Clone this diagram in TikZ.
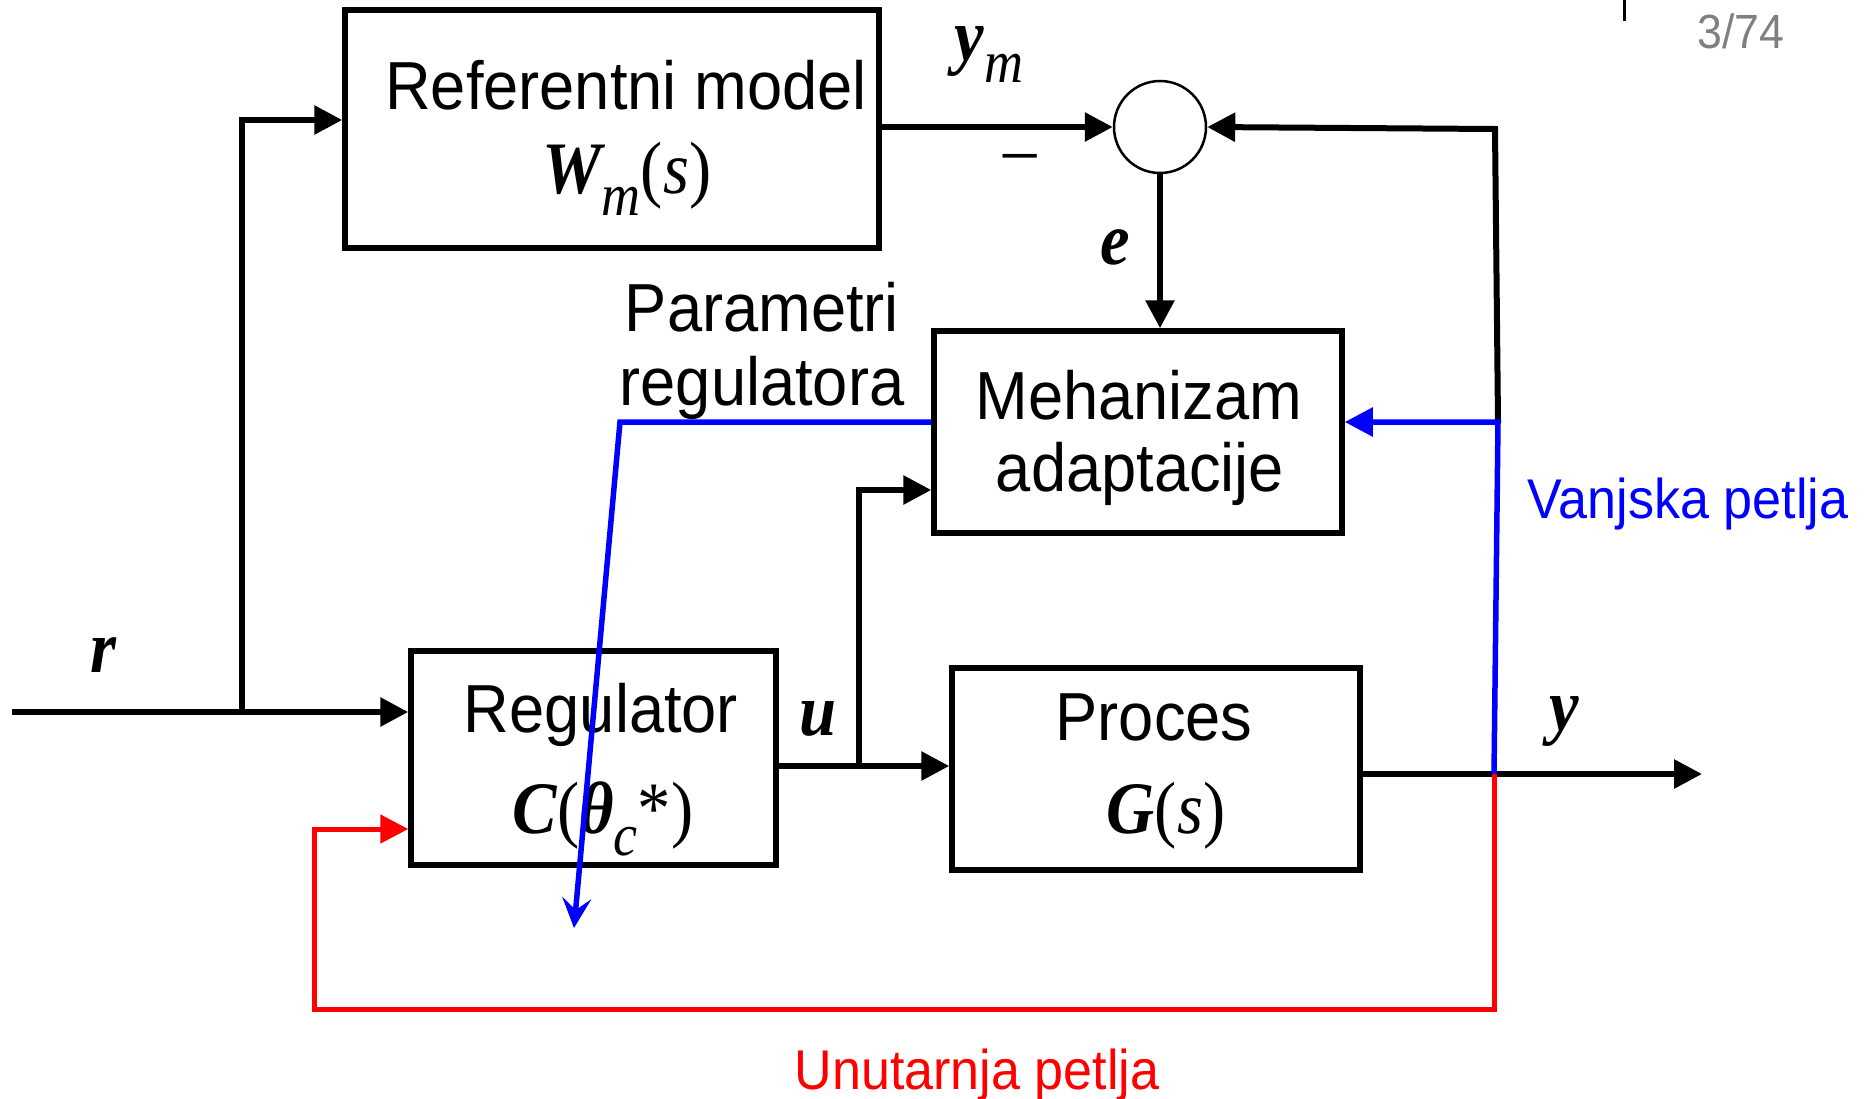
\documentclass[tikz,border=0pt]{standalone}
\usepackage{fontspec}
\setmainfont{Liberation Sans}[FakeStretch=0.93]
\newfontfamily\tms{Liberation Serif}[FakeStretch=0.9]
\usetikzlibrary{arrows.meta}
\definecolor{myblue}{RGB}{0,0,255}
\definecolor{myred}{RGB}{255,0,0}
\definecolor{pg}{RGB}{128,128,128}
\newcommand{\mbi}[1]{{\tms\bfseries\itshape #1}}
\newcommand{\mii}[1]{{\tms\itshape #1}}
\newcommand{\mup}[1]{{\tms #1}}
\newcommand{\msub}[1]{\raisebox{-0.3em}{\fontsize{60}{60}\selectfont\tms\itshape #1}}
\begin{document}
\begin{tikzpicture}[x=1pt,y=-1pt,
  blk/.style={draw, line width=5.5pt, inner sep=0pt, line join=miter},
  txt/.style={anchor=base, inner sep=0pt, font=\fontsize{68}{80}\selectfont},
  mth/.style={anchor=base, inner sep=0pt, font=\fontsize{74}{80}\selectfont},
  lbl/.style={anchor=base, inner sep=0pt, font=\fontsize{56}{60}\selectfont},
  conn/.style={line width=6pt, line join=miter, -{Triangle[length=28pt,width=28pt]}},
  wire/.style={line width=6pt},
  bluearr/.style={line width=5.5pt, myblue, -{Stealth[length=30pt,width=29pt,inset=12pt]}}]
\useasboundingbox (0,0) rectangle (1866,1098);

% blocks
\node[blk, minimum width=534pt, minimum height=238pt] (ref) at (612,129) {};
\node[blk, minimum width=408pt, minimum height=202pt] (mech) at (1138,432) {};
\node[blk, minimum width=365pt, minimum height=214pt] (reg) at (593.5,758) {};
\node[blk, minimum width=408pt, minimum height=202pt] (proc) at (1156,769) {};
\node[circle, draw, line width=2.5pt, minimum size=92pt, inner sep=0pt] (sum) at (1160,127) {};

% texts
\node[txt] (t1) at (626,109) {Referentni model};
\node[mth] (t2) at (627,193) {\mbi{W}\msub{m}\mup{(}\mii{s}\mup{)}};
\node[mth] (tym) at (989,60) {\mbi{y}\msub{m}};
\node[mth] (tminus) at (1020,173) {\mup{–}};
\node[mth] (te) at (1115,264) {\mbi{e}};
\node[txt] (tpar1) at (762,331) {Parametri};
\node[txt] (tpar2) at (762,405) {regulatora};
\node[txt] (tm1) at (1139,419) {Mehanizam};
\node[txt] (tm2) at (1140,491) {adaptacije};
\node[lbl, text=myblue] (tvan) at (1688,518) {Vanjska petlja};
\node[lbl, text=myred] (tunu) at (977,1089) {Unutarnja petlja};
\node[mth] (tr) at (103,672) {\mbi{r}};
\node[txt] (treg) at (601,732) {Regulator};
\node[mth] (tc) at (603,833) {\mbi{C}\mup{(}\mbi{θ}\msub{c}\mup{*)}};
\node[mth] (tu) at (818,735) {\mbi{u}};
\node[txt] (tproc) at (1154,740) {Proces};
\node[mth] (tg) at (1166,833) {\mbi{G}\mup{(}\mii{s}\mup{)}};
\node[mth] (ty) at (1564,730) {\mbi{y}};
\node[anchor=base, inner sep=0pt, font=\fontsize{48}{50}\selectfont, text=pg] (tpg) at (1741,48) {3/74};
\draw[line width=3pt] (1624,0) -- (1624,21);

% coordinates
\coordinate (rin) at (12,712);
\coordinate (rbr) at (242,712);
\coordinate (rtop) at (242,120);
\coordinate (tap) at (1494,774);
\coordinate (tapB) at (1498,422);
\coordinate (tapT) at (1495,129);
\coordinate (pc) at (620,422);
\coordinate (pend) at (574,928);
\coordinate (uy) at (0,766);
\coordinate (ub) at (859,766);
\coordinate (ut) at (859,490);
\coordinate (yout) at (1702,774);
\coordinate (rb) at (1494,1009);
\coordinate (lb) at (314,1009);
\coordinate (lt) at (314,829);

% black connectors
\draw[conn] (rin) -- (rin -| reg.west);
\draw[conn] (rbr) -- (rtop) -- (rtop -| ref.west);
\draw[conn] (ref.east |- sum) -- (sum.west);
\draw[conn] (sum.south) -- (sum.south |- mech.north);
\draw[conn] (tapB) -- (tapT) -- (sum.east);
\draw[conn] (reg.east |- uy) -- (proc.west |- uy);
\draw[conn] (ub) -- (ut) -- (ut -| mech.west);
\draw[conn] (proc.east |- yout) -- (yout);

% coloured loops
\draw[conn, myblue, line width=5.5pt] (tap) -- (tapB) -- (tapB -| mech.east);
\draw[bluearr] (pc -| mech.west) -- (pc) -- (pend);
\draw[conn, myred, line width=5pt] (tap) -- (rb) -- (lb) -- (lt) -- (lt -| reg.west);
\end{tikzpicture}
\end{document}
